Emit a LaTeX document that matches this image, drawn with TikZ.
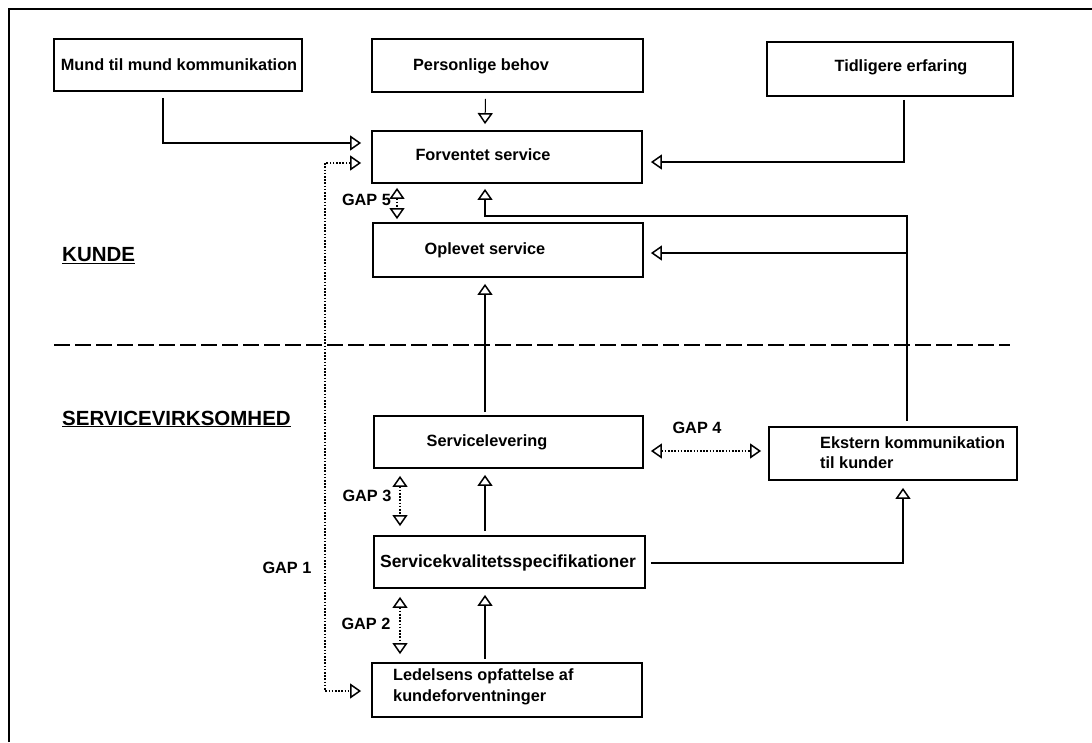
\documentclass[tikz,border=0pt]{standalone}
\usepackage{fontspec}
\setmainfont{Liberation Sans}
\usetikzlibrary{arrows.meta,calc}
\begin{document}
\begin{tikzpicture}[x=1pt,y=-1pt,
  box/.style={draw,line width=1.8pt,inner sep=0pt},
  txt/.style={inner sep=0pt,font=\fontsize{16.3}{20.5}\selectfont\bfseries},
  head/.style={inner sep=0pt,anchor=west,font=\fontsize{20.5}{24}\selectfont\bfseries},
  arr/.style={line width=1.3pt,-{Triangle[open,length=11pt,width=15pt,line width=1.5pt]}},
  darr/.style={line width=1.3pt,dash pattern=on 1.6pt off 1.6pt,
     {Triangle[open,length=11pt,width=15pt,line width=1.5pt]}-{Triangle[open,length=11pt,width=15pt,line width=1.5pt]}}]
\useasboundingbox (0,0) rectangle (1092,742);
\fill[white] (0,0) rectangle (1092,742);
% frame
\draw[line width=2pt] (9,742) -- (9,9) -- (1092,9);
% separator
\draw[line width=2pt,dash pattern=on 16pt off 5pt] (54,345) -- (1010,345);
% boxes
\node[box,minimum width=248pt,minimum height=52pt] (mund) at (178,65) {};
\node[box,minimum width=271pt,minimum height=53pt] (pb) at (507.5,65.5) {};
\node[box,minimum width=246pt,minimum height=54pt] (te) at (890,69) {};
\node[box,minimum width=270pt,minimum height=52pt] (fs) at (507,157) {};
\node[box,minimum width=270pt,minimum height=54pt] (os) at (508,250) {};
\node[box,minimum width=269pt,minimum height=52pt] (sl) at (508.5,442) {};
\node[box,minimum width=248pt,minimum height=53pt] (ek) at (893,453.5) {};
\node[box,minimum width=271pt,minimum height=52pt] (sk) at (509.5,562) {};
\node[box,minimum width=270pt,minimum height=54pt] (lo) at (507,690) {};
% box texts
\node[txt] (tmund) at (179,65) {Mund til mund kommunikation};
\node[txt] (tpb) at (481,66) {Personlige behov};
\node[txt] (tte) at (901,67) {Tidligere erfaring};
\node[txt] (tfs) at (483,155) {Forventet service};
\node[txt] (tos) at (485,250) {Oplevet service};
\node[txt] (tsl) at (487,442) {Servicelevering};
\node[txt,font=\fontsize{17.5}{20.5}\selectfont\bfseries] (tsk) at (508,563) {Servicekvalitetsspecifikationer};
\node[txt,anchor=west,align=left] (tlo) at (393,687) {Ledelsens opfattelse af\\kundeforventninger};
\node[txt,anchor=west,align=left] (tek) at (820,452.5) {Ekstern kommunikation\\til kunder};
% headings
\node[head] (kunde) at (62,256) {\underline{KUNDE}};
\node[head] (svh) at (62,419) {\underline{SERVICEVIRKSOMHED}};
% gap labels
\node[txt] (g5) at (366.5,200) {GAP 5};
\node[txt] (g4) at (697,428) {GAP 4};
\node[txt] (g3) at (367,496) {GAP 3};
\node[txt] (g1) at (287,568) {GAP 1};
\node[txt] (g2) at (366,624) {GAP 2};
% helper coordinates
\coordinate (ekup) at ($(ek.north)+(14,-5)$);
\coordinate (fsin) at ($(fs.south)+(-22,32)$);
\coordinate (g1c) at ($(fs.west)+(-46,6)$);
% connectors
\draw[arr] ($(mund.south)+(-15,6)$) |- ($(fs.west)+(-10,-14)$);
\draw[arr,line width=1pt] ($(pb.south)+(-22,6)$) -- ($(fs.north)+(-22,-6)$);
\draw[arr] ($(te.south)+(14,3)$) |- ($(fs.east)+(8,5)$);
\draw[arr] (ekup) |- (fsin) -- ($(fs.south)+(-22,5)$);
\draw[arr] (ekup |- os.east) ++(0,3) -- ($(os.east)+(7,3)$);
\draw[arr] ($(sl.north)+(-23.5,-3)$) -- ($(os.south)+(-23,6)$);
\draw[arr] ($(sk.north)+(-24.5,-4)$) -- ($(sl.south)+(-23.5,6)$);
\draw[arr] ($(lo.north)+(-22,-3)$) -- ($(sk.south)+(-24.5,6)$);
\draw[arr] ($(sk.east)+(5,1)$) -| ($(ek.south)+(10,7)$);
% gaps
\draw[darr] ($(sl.east)+(7,9)$) -- ($(ek.west)+(-7,-2.5)$);
\draw[darr] ($(fs.south)+(-110,4)$) -- ($(os.north)+(-111,-3)$);
\draw[darr] ($(sl.south)+(-108.5,7)$) -- ($(sk.north)+(-109.5,-9)$);
\draw[darr] ($(sk.south)+(-109.5,8)$) -- ($(lo.north)+(-107,-8)$);
\draw[darr] ($(fs.west)+(-10,6)$) -- (g1c) |- ($(lo.west)+(-10,1)$);
\end{tikzpicture}
\end{document}
